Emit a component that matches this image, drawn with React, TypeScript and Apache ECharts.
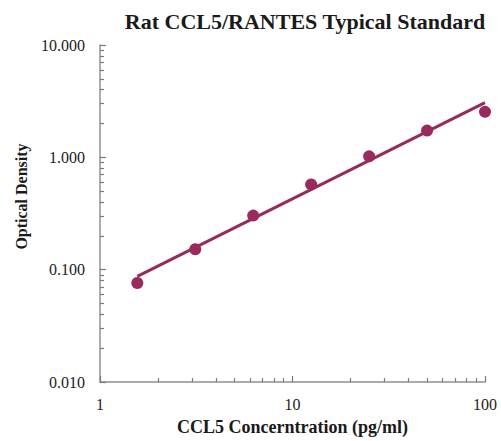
import React, { useEffect, useRef } from "react";
import * as echarts from "echarts";

const concentrations = [1.5625, 3.125, 6.25, 12.5, 25, 50, 100];
const odValues = [0.076, 0.152, 0.303, 0.574, 1.02, 1.73, 2.54];
const fitX = [1.5625, 100];
const fitY = [0.087, 3.07];
const xMinorTicks = [2, 3, 4, 5, 6, 7, 8, 9, 20, 30, 40, 50, 60, 70, 80, 90];
const yMinorTicks = [
  0.02, 0.03, 0.04, 0.05, 0.06, 0.07, 0.08, 0.09,
  0.2, 0.3, 0.4, 0.5, 0.6, 0.7, 0.8, 0.9,
  2, 3, 4, 5, 6, 7, 8, 9,
];

const COLOR = "#9a2a5c";
const AXIS = "#909090";
const TICK = "#7a7a7a";
const SERIF = "'Liberation Serif', 'Times New Roman', serif";

export default function App() {
  const ref = useRef<HTMLDivElement>(null);
  useEffect(() => {
    const chart = echarts.init(ref.current!, null, { renderer: "svg" });
    chart.setOption({
      animation: false,
      backgroundColor: "#ffffff",
      title: {
        text: "Rat CCL5/RANTES Typical Standard",
        left: 300,
        textAlign: "center",
        top: 5,
        textStyle: { fontFamily: SERIF, fontWeight: "bold", fontSize: 22, color: "#1a1a1a" },
      },
      grid: { left: 100, right: 16, top: 45, bottom: 55 },
      xAxis: [
        {
          type: "log",
          min: 1,
          max: 100,
          logBase: 10,
          name: "CCL5 Concerntration (pg/ml)",
          nameLocation: "middle",
          nameGap: 36,
          nameTextStyle: { fontFamily: SERIF, fontWeight: "bold", fontSize: 18, color: "#1a1a1a" },
          axisLine: { show: true, lineStyle: { color: AXIS, width: 1.5 } },
          axisTick: { show: true, inside: true, length: 6, lineStyle: { color: TICK, width: 1.2 } },
          axisLabel: { margin: 14, fontFamily: SERIF, fontSize: 16, color: "#222" },
          splitLine: { show: false },
        },
        {
          type: "log",
          min: 1,
          max: 100,
          logBase: 10,
          position: "bottom",
          axisLine: { show: false },
          axisTick: { show: true, inside: true, length: 4, lineStyle: { color: TICK, width: 1.2 }, customValues: xMinorTicks },
          axisLabel: { show: false },
          splitLine: { show: false },
        },
      ],
      yAxis: [
        {
          type: "log",
          min: 0.01,
          max: 10,
          logBase: 10,
          name: "Optical Density",
          nameLocation: "middle",
          nameGap: 71,
          nameTextStyle: {
            fontFamily: SERIF,
            fontWeight: "bold",
            fontSize: 16,
            color: "#1a1a1a",
            padding: [0, 0, 0, 34],
          },
          axisLine: { show: true, lineStyle: { color: AXIS, width: 1.5 } },
          axisTick: { show: true, inside: true, length: 6, lineStyle: { color: TICK, width: 1.2 } },
          axisLabel: {
            margin: 15,
            fontFamily: SERIF,
            fontSize: 16,
            color: "#222",
            formatter: (v: number) => v.toFixed(3),
          },
          splitLine: { show: false },
        },
        {
          type: "log",
          min: 0.01,
          max: 10,
          logBase: 10,
          position: "left",
          axisLine: { show: false },
          axisTick: { show: true, inside: true, length: 4, lineStyle: { color: TICK, width: 1.2 }, customValues: yMinorTicks },
          axisLabel: { show: false },
          splitLine: { show: false },
        },
      ],
      series: [
        {
          type: "line",
          data: fitX.map((x, i) => [x, fitY[i]]),
          showSymbol: false,
          symbol: "none",
          lineStyle: { color: COLOR, width: 3 },
          z: 2,
        },
        {
          type: "scatter",
          data: concentrations.map((x, i) => [x, odValues[i]]),
          symbol: "circle",
          symbolSize: 12,
          itemStyle: { color: COLOR, opacity: 1 },
          z: 3,
        },
      ],
    });
    return () => chart.dispose();
  }, []);
  return <div ref={ref} style={{ width: 501, height: 441, position: "absolute", left: 0, top: 0 }} />;
}
